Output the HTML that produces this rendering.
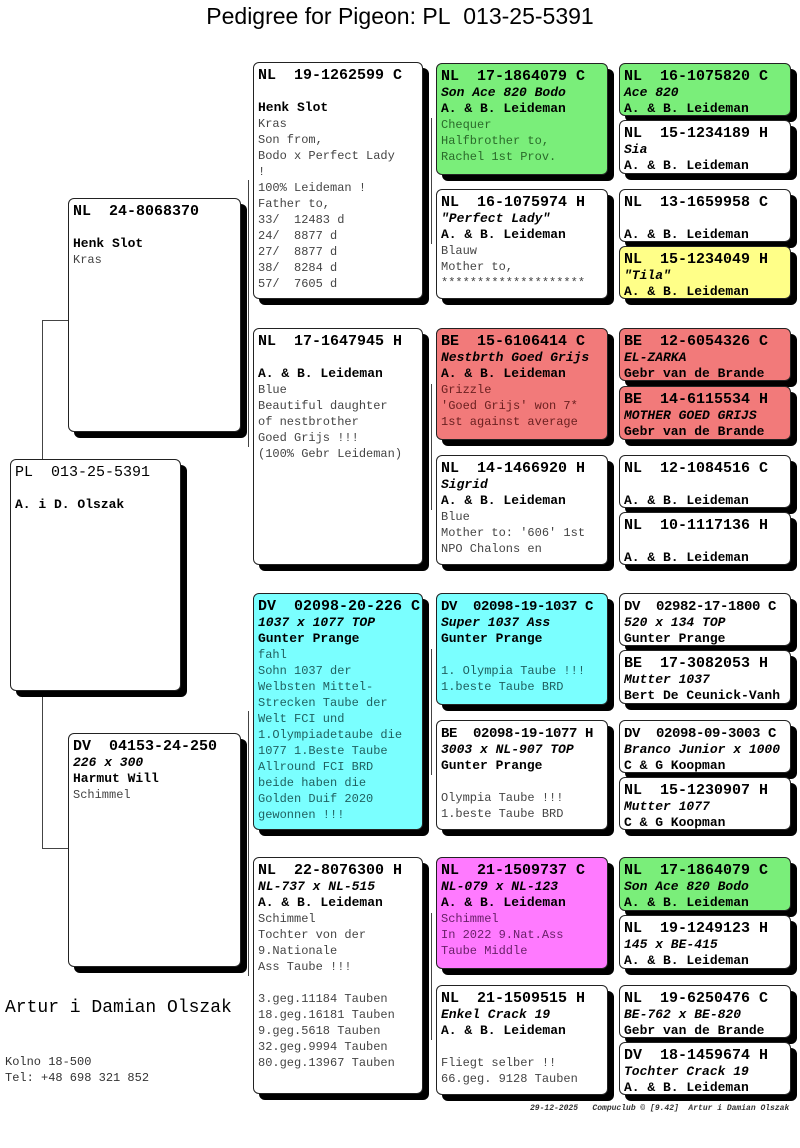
<!DOCTYPE html>
<html><head><meta charset="utf-8"><style>
body{margin:0;width:800px;height:1148px;background:#fff;position:relative;overflow:hidden;font-family:"Liberation Mono",monospace;}
.t{position:absolute;left:0;width:800px;top:3px;text-align:center;font:23px "Liberation Sans",sans-serif;}
.b{position:absolute;border:1px solid #222;border-radius:6px;box-shadow:6px 6px 0 #000;padding:5px 0 0 4px;box-sizing:border-box;overflow:hidden;white-space:pre;line-height:16px;background:#fff;color:#444;font-size:12px;}
.h{font-weight:bold;font-size:15px;color:#000;}
.s{font-size:14px;letter-spacing:-0.4px;}
.n{font-weight:bold;font-size:13px;color:#000;}
.i{font-style:italic;font-weight:bold;font-size:13px;color:#000;}
.g{background:#7aee7a;color:#2a6a2a}
.y{background:#ffff88;color:#666}
.r{background:#f27a7a;color:#6a2020}
.c{background:#7affff;color:#206060}
.m{background:#ff7aff;color:#6a206a}
.l{position:absolute;background:#444;}
</style></head><body>
<div class="t">Pedigree for Pigeon: PL&nbsp; 013-25-5391</div>

<div class="l" style="left:42px;top:320px;width:1px;height:528px"></div>
<div class="l" style="left:42px;top:320px;width:26px;height:1px"></div>
<div class="l" style="left:42px;top:848px;width:26px;height:1px"></div>
<div class="l" style="left:248px;top:180px;width:1px;height:267px"></div>
<div class="l" style="left:248px;top:711px;width:1px;height:265px"></div>
<div class="l" style="left:431px;top:118px;width:1px;height:126px"></div>
<div class="l" style="left:431px;top:384px;width:1px;height:126px"></div>
<div class="l" style="left:431px;top:649px;width:1px;height:126px"></div>
<div class="l" style="left:431px;top:913px;width:1px;height:127px"></div>
<div class="l" style="left:613px;top:90px;width:1px;height:58px"></div>
<div class="l" style="left:613px;top:216px;width:1px;height:58px"></div>
<div class="l" style="left:613px;top:356px;width:1px;height:58px"></div>
<div class="l" style="left:613px;top:483px;width:1px;height:58px"></div>
<div class="l" style="left:613px;top:620px;width:1px;height:58px"></div>
<div class="l" style="left:613px;top:748px;width:1px;height:58px"></div>
<div class="l" style="left:613px;top:884px;width:1px;height:58px"></div>
<div class="l" style="left:613px;top:1012px;width:1px;height:58px"></div>

<div class="b" style="left:10px;top:459px;width:171px;height:232px"><span style="font-size:15px;color:#000">PL  013-25-5391</span>

<span class="n">A. i D. Olszak</span></div>

<div class="b" style="left:68px;top:198px;width:173px;height:234px"><span class="h">NL  24-8068370</span>

<span class="n">Henk Slot</span>
Kras</div>
<div class="b" style="left:68px;top:733px;width:173px;height:234px"><span class="h">DV  04153-24-250</span>
<span class="i">226 x 300</span>
<span class="n">Harmut Will</span>
Schimmel</div>

<div class="b" style="left:253px;top:62px;width:170px;height:237px"><span class="h">NL  19-1262599 C</span>

<span class="n">Henk Slot</span>
Kras
Son from,
Bodo x Perfect Lady
!
100% Leideman !
Father to,
33/  12483 d
24/  8877 d
27/  8877 d
38/  8284 d
57/  7605 d</div>
<div class="b" style="left:253px;top:328px;width:170px;height:237px"><span class="h">NL  17-1647945 H</span>

<span class="n">A. &amp; B. Leideman</span>
Blue
Beautiful daughter
of nestbrother
Goed Grijs !!!
(100% Gebr Leideman)</div>
<div class="b c" style="left:253px;top:593px;width:170px;height:237px"><span class="h">DV  02098-20-226 C</span>
<span class="i">1037 x 1077 TOP</span>
<span class="n">Gunter Prange</span>
fahl
Sohn 1037 der
Welbsten Mittel-
Strecken Taube der
Welt FCI und
1.Olympiadetaube die
1077 1.Beste Taube
Allround FCI BRD
beide haben die
Golden Duif 2020
gewonnen !!!</div>
<div class="b" style="left:253px;top:857px;width:170px;height:237px"><span class="h">NL  22-8076300 H</span>
<span class="i">NL-737 x NL-515</span>
<span class="n">A. &amp; B. Leideman</span>
Schimmel
Tochter von der
9.Nationale
Ass Taube !!!

3.geg.11184 Tauben
18.geg.16181 Tauben
9.geg.5618 Tauben
32.geg.9994 Tauben
80.geg.13967 Tauben</div>

<div class="b g" style="left:436px;top:63px;width:172px;height:112px"><span class="h">NL  17-1864079 C</span>
<span class="i">Son Ace 820 Bodo</span>
<span class="n">A. &amp; B. Leideman</span>
Chequer
Halfbrother to,
Rachel 1st Prov.</div>
<div class="b" style="left:436px;top:189px;width:172px;height:110px"><span class="h">NL  16-1075974 H</span>
<span class="i">"Perfect Lady"</span>
<span class="n">A. &amp; B. Leideman</span>
Blauw
Mother to,
********************</div>
<div class="b r" style="left:436px;top:328px;width:172px;height:112px"><span class="h">BE  15-6106414 C</span>
<span class="i">Nestbrth Goed Grijs</span>
<span class="n">A. &amp; B. Leideman</span>
Grizzle
'Goed Grijs' won 7*
1st against average</div>
<div class="b" style="left:436px;top:455px;width:172px;height:110px"><span class="h">NL  14-1466920 H</span>
<span class="i">Sigrid</span>
<span class="n">A. &amp; B. Leideman</span>
Blue
Mother to: '606' 1st
NPO Chalons en</div>
<div class="b c" style="left:436px;top:593px;width:172px;height:112px"><span class="h s">DV  02098-19-1037 C</span>
<span class="i">Super 1037 Ass</span>
<span class="n">Gunter Prange</span>

1. Olympia Taube !!!
1.beste Taube BRD</div>
<div class="b" style="left:436px;top:720px;width:172px;height:110px"><span class="h s">BE  02098-19-1077 H</span>
<span class="i">3003 x NL-907 TOP</span>
<span class="n">Gunter Prange</span>

Olympia Taube !!!
1.beste Taube BRD</div>
<div class="b m" style="left:436px;top:857px;width:172px;height:112px"><span class="h">NL  21-1509737 C</span>
<span class="i">NL-079 x NL-123</span>
<span class="n">A. &amp; B. Leideman</span>
Schimmel
In 2022 9.Nat.Ass
Taube Middle</div>
<div class="b" style="left:436px;top:985px;width:172px;height:110px"><span class="h">NL  21-1509515 H</span>
<span class="i">Enkel Crack 19</span>
<span class="n">A. &amp; B. Leideman</span>

Fliegt selber !!
66.geg. 9128 Tauben</div>

<div class="b g" style="left:619px;top:63px;width:172px;height:53px"><span class="h">NL  16-1075820 C</span>
<span class="i">Ace 820</span>
<span class="n">A. &amp; B. Leideman</span></div>
<div class="b" style="left:619px;top:120px;width:172px;height:54px"><span class="h">NL  15-1234189 H</span>
<span class="i">Sia</span>
<span class="n">A. &amp; B. Leideman</span></div>
<div class="b" style="left:619px;top:189px;width:172px;height:53px"><span class="h">NL  13-1659958 C</span>

<span class="n">A. &amp; B. Leideman</span></div>
<div class="b y" style="left:619px;top:246px;width:172px;height:53px"><span class="h">NL  15-1234049 H</span>
<span class="i">"Tila"</span>
<span class="n">A. &amp; B. Leideman</span></div>
<div class="b r" style="left:619px;top:328px;width:172px;height:53px"><span class="h">BE  12-6054326 C</span>
<span class="i">EL-ZARKA</span>
<span class="n">Gebr van de Brande</span></div>
<div class="b r" style="left:619px;top:386px;width:172px;height:54px"><span class="h">BE  14-6115534 H</span>
<span class="i">MOTHER GOED GRIJS</span>
<span class="n">Gebr van de Brande</span></div>
<div class="b" style="left:619px;top:455px;width:172px;height:53px"><span class="h">NL  12-1084516 C</span>

<span class="n">A. &amp; B. Leideman</span></div>
<div class="b" style="left:619px;top:512px;width:172px;height:53px"><span class="h">NL  10-1117136 H</span>

<span class="n">A. &amp; B. Leideman</span></div>
<div class="b" style="left:619px;top:593px;width:172px;height:53px"><span class="h s">DV  02982-17-1800 C</span>
<span class="i">520 x 134 TOP</span>
<span class="n">Gunter Prange</span></div>
<div class="b" style="left:619px;top:650px;width:172px;height:54px"><span class="h">BE  17-3082053 H</span>
<span class="i">Mutter 1037</span>
<span class="n">Bert De Ceunick-Vanh</span></div>
<div class="b" style="left:619px;top:720px;width:172px;height:53px"><span class="h s">DV  02098-09-3003 C</span>
<span class="i">Branco Junior x 1000</span>
<span class="n">C &amp; G Koopman</span></div>
<div class="b" style="left:619px;top:777px;width:172px;height:53px"><span class="h">NL  15-1230907 H</span>
<span class="i">Mutter 1077</span>
<span class="n">C &amp; G Koopman</span></div>
<div class="b g" style="left:619px;top:857px;width:172px;height:54px"><span class="h">NL  17-1864079 C</span>
<span class="i">Son Ace 820 Bodo</span>
<span class="n">A. &amp; B. Leideman</span></div>
<div class="b" style="left:619px;top:915px;width:172px;height:54px"><span class="h">NL  19-1249123 H</span>
<span class="i">145 x BE-415</span>
<span class="n">A. &amp; B. Leideman</span></div>
<div class="b" style="left:619px;top:985px;width:172px;height:53px"><span class="h">NL  19-6250476 C</span>
<span class="i">BE-762 x BE-820</span>
<span class="n">Gebr van de Brande</span></div>
<div class="b" style="left:619px;top:1042px;width:172px;height:53px"><span class="h">DV  18-1459674 H</span>
<span class="i">Tochter Crack 19</span>
<span class="n">A. &amp; B. Leideman</span></div>

<div style="position:absolute;left:5px;top:998px;font-size:18px;white-space:pre;">Artur i Damian Olszak</div>
<div style="position:absolute;left:5px;top:1054px;font-size:12px;line-height:16px;color:#333;white-space:pre;">Kolno 18-500
Tel: +48 698 321 852</div>
<div style="position:absolute;left:530px;top:1104px;font-size:8px;font-style:italic;font-weight:bold;color:#333;white-space:pre;">29-12-2025   Compuclub © [9.42]  Artur i Damian Olszak</div>
</body></html>
